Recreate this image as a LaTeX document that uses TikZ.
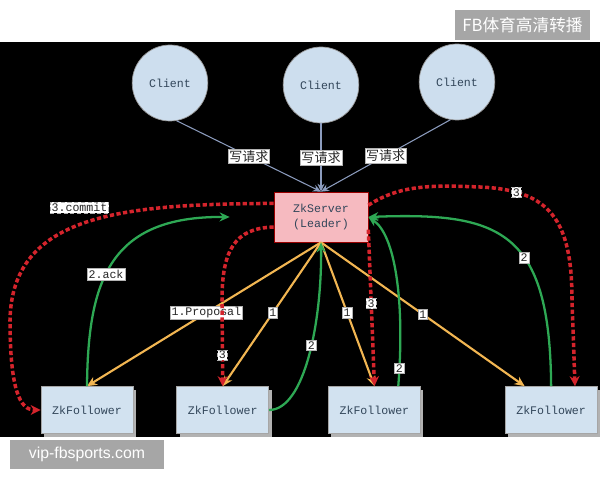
\documentclass[tikz,border=0pt]{standalone}
\usepackage{fontspec}
\usepackage{xcolor}
\usepackage{tikz}
\usetikzlibrary{shapes.geometric, arrows.meta, positioning, shadows}
\setmainfont{Liberation Sans}
\setmonofont{Liberation Mono}
\newfontfamily\cjk{Noto Sans CJK SC}
\definecolor{requestgray}{RGB}{140, 156, 190}
\definecolor{proposalorange}{RGB}{242, 182, 82}
\definecolor{ackgreen}{RGB}{46, 168, 84}
\definecolor{commitred}{RGB}{212, 36, 44}
\definecolor{clientblue}{RGB}{205, 222, 238}
\definecolor{followerblue}{RGB}{210, 226, 240}
\definecolor{leaderpink}{RGB}{246, 186, 192}
\definecolor{boxtext}{RGB}{50, 70, 90}
\definecolor{markgray}{RGB}{166, 166, 166}

\begin{document}
\begin{tikzpicture}[x=0.2mm, y=-0.2mm,
    client/.style={ellipse, draw=gray!80, fill=clientblue, minimum width=15mm,
                   minimum height=15.2mm, font=\ttfamily\fontsize{6.6}{8}\selectfont, text=boxtext},
    follower/.style={rectangle, draw=gray!70, fill=followerblue, minimum width=18.4mm,
                     minimum height=9.4mm, font=\ttfamily\fontsize{6.6}{8}\selectfont, text=boxtext,
                     drop shadow={shadow xshift=0.6mm, shadow yshift=-0.6mm, fill=gray!60, opacity=1}},
    leader/.style={rectangle, draw=red!60!black, fill=leaderpink, minimum width=18.8mm,
                   minimum height=10mm, align=center, font=\ttfamily\fontsize{6.6}{8.5}\selectfont, text=boxtext},
    lbl/.style={fill=white, draw=gray!60, line width=0.3pt, inner sep=0.8pt,
                font=\ttfamily\fontsize{6.6}{8}\selectfont, text=black!85},
    reqlbl/.style={lbl, font=\cjk\fontsize{7.4}{9}\selectfont},
    request/.style={draw=requestgray, line width=0.6pt, -{Stealth[length=1.6mm, width=1.4mm]}},
    proposal/.style={draw=proposalorange, line width=1.2pt, -{Stealth[length=2mm, width=1.8mm]}},
    ack/.style={draw=ackgreen, line width=1.3pt, -{Stealth[length=2mm, width=1.8mm]}},
    commit/.style={draw=commitred, line width=2pt, dash pattern=on 2.4pt off 1.4pt,
                   -{Stealth[length=2mm, width=2mm]}},
    watermark/.style={fill=markgray, text=white, inner sep=0pt}
]
    \path[use as bounding box] (0,0) rectangle (600,480);
    \fill[black] (0,42) rectangle (600,437);

    % clients and leader
    \node[client] (client1) at (170,83) {Client};
    \node[client] (client2) at (321,85) {Client};
    \node[client] (client3) at (457,82) {Client};
    \node[leader] (leader) at (321,217) {ZkServer\\(Leader)};

    % followers
    \node[follower] (f1) at (87,410) {ZkFollower};
    \node[follower, right=8.6mm of f1] (f2) {ZkFollower};
    \node[follower, right=11.8mm of f2] (f3) {ZkFollower};
    \node[follower, right=16.8mm of f3] (f4) {ZkFollower};

    % write requests
    \draw[request] (client1.-80) -- node[reqlbl] {写请求} (leader.north);
    \draw[request] (client2.south) -- node[reqlbl] {写请求} (leader.north);
    \draw[request] (client3.-100) -- node[reqlbl] {写请求} (leader.north);

    % 1. proposal
    \draw[proposal] (leader.south) -- node[lbl, pos=0.49] {1.Proposal} (f1.north);
    \draw[proposal] (leader.south) -- node[lbl, pos=0.49] {1} (f2.north);
    \draw[proposal] (leader.south) -- node[lbl, pos=0.49] {1} (f3.north);
    \draw[proposal] (leader.south) -- node[lbl, pos=0.5] {1} (f4.138);

    % 2. ack
    \draw[ack] (f1.north) .. controls (88,280) and (110,216) .. ([xshift=-8.8mm]leader.west)
        node[lbl, pos=0.43] {2.ack};
    \draw[ack] (f2.east) .. controls (305,410) and (322,320) .. (leader.south)
        node[lbl, pos=0.55] {2};
    \draw[ack] (f3.45) .. controls (405,300) and (395,235) .. (leader.east)
        node[lbl, pos=0.07] {2};
    \draw[ack] (f4.north) .. controls (550,230) and (500,212) .. (leader.east)
        node[lbl, pos=0.4] {2};

    % 3. commit
    \draw[commit] (leader.164) .. controls (120,204) and (12,215) .. (10,320)
        node[lbl, pos=0.52, yshift=3.4mm] {3.commit}
        .. controls (10,390) and (20,410) .. (f1.west);
    \draw[commit] (leader.192) .. controls (235,228) and (222,250) .. (222,300)
        -- node[lbl, pos=0.64] {3} (f2.north);
    \draw[commit] (leader.-15) -- node[lbl, pos=0.47] {3} (f3.north);
    \draw[commit] (leader.14) .. controls (400,185) and (430,185) .. (480,187)
        .. controls (550,190) and (572,220) .. (572,300) node[lbl, pos=0.2] {3}
        -- (f4.45);

    % watermarks
    \node[watermark, minimum width=27mm, minimum height=6mm, font=\cjk\fontsize{9.5}{11}\selectfont]
        (tvmark) at (522.5,25) {FB体育高清转播};
    \node[watermark, minimum width=30.8mm, minimum height=5.8mm, font=\fontsize{9}{11}\selectfont]
        (sitemark) at (87,454.5) {vip-fbsports.com};
\end{tikzpicture}
\end{document}
